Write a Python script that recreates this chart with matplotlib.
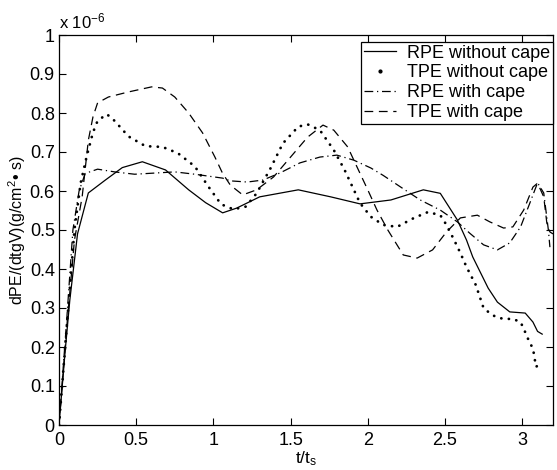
import numpy as np
import matplotlib
matplotlib.use('Agg')
import matplotlib.pyplot as plt
from matplotlib.lines import Line2D

# RPE without cape (solid)
x_rpe = [0, 0.04, 0.07, 0.12, 0.19, 0.30, 0.41, 0.54, 0.69, 0.84, 0.95, 1.06, 1.15, 1.30,
         1.55, 1.76, 1.95, 2.15, 2.36, 2.47, 2.58, 2.64, 2.68, 2.78, 2.84, 2.92, 3.02, 3.07, 3.10, 3.13]
y_rpe = [0, 0.19, 0.32, 0.49, 0.595, 0.628, 0.66, 0.675, 0.654, 0.603, 0.57, 0.544, 0.556, 0.585,
         0.603, 0.585, 0.567, 0.577, 0.603, 0.594, 0.526, 0.474, 0.431, 0.351, 0.315, 0.29, 0.287, 0.264, 0.24, 0.233]

# TPE without cape (dotted)
x_tpe = [0, 0.05, 0.10, 0.14, 0.18, 0.22, 0.25, 0.31, 0.36, 0.45, 0.56, 0.67, 0.77, 0.88, 0.97,
         1.05, 1.13, 1.21, 1.28, 1.37, 1.45, 1.55, 1.61, 1.69, 1.78, 1.85, 1.91, 1.95, 2.02, 2.10,
         2.19, 2.30, 2.39, 2.47, 2.51, 2.56, 2.60, 2.64, 2.70, 2.75, 2.79, 2.83, 2.88, 2.94, 2.99,
         3.02, 3.05, 3.07, 3.09, 3.13]
y_tpe = [0, 0.25, 0.5, 0.62, 0.69, 0.75, 0.78, 0.797, 0.78, 0.74, 0.715, 0.713, 0.697, 0.663, 0.61,
         0.566, 0.553, 0.56, 0.594, 0.658, 0.722, 0.765, 0.771, 0.756, 0.705, 0.654, 0.603, 0.569, 0.534, 0.513,
         0.508, 0.531, 0.546, 0.538, 0.513, 0.474, 0.441, 0.405, 0.359, 0.30, 0.287, 0.277, 0.272, 0.272, 0.264,
         0.238, 0.21, 0.197, 0.149, 0.162]

# RPE with cape (dash-dot)
x_rpec = [0, 0.05, 0.09, 0.13, 0.17, 0.25, 0.36, 0.49, 0.62, 0.75, 0.88, 1.06, 1.11, 1.22, 1.32,
          1.43, 1.56, 1.69, 1.80, 1.91, 2.02, 2.10, 2.21, 2.34, 2.47, 2.58, 2.66, 2.75, 2.84, 2.92,
          2.99, 3.05, 3.10, 3.14, 3.17, 3.18]
y_rpec = [0, 0.27, 0.5, 0.6, 0.645, 0.656, 0.649, 0.643, 0.646, 0.649, 0.643, 0.633, 0.626, 0.623, 0.628,
          0.646, 0.672, 0.687, 0.692, 0.679, 0.659, 0.64, 0.611, 0.577, 0.551, 0.521, 0.492, 0.462, 0.449, 0.467,
          0.508, 0.569, 0.621, 0.595, 0.5, 0.456]

# TPE with cape (dashed)
x_tpec = [0, 0.05, 0.10, 0.15, 0.19, 0.22, 0.25, 0.32, 0.45, 0.60, 0.67, 0.75, 0.84, 0.93, 1.01,
          1.06, 1.11, 1.19, 1.28, 1.39, 1.50, 1.61, 1.71, 1.78, 1.87, 1.93, 2.00, 2.06, 2.13, 2.23,
          2.32, 2.42, 2.51, 2.60, 2.71, 2.79, 2.88, 2.94, 3.01, 3.07, 3.10, 3.14, 3.16, 3.18, 3.20]
y_tpec = [0, 0.25, 0.474, 0.585, 0.73, 0.79, 0.826, 0.841, 0.854, 0.867, 0.864, 0.841, 0.80, 0.749, 0.687,
          0.645, 0.615, 0.59, 0.603, 0.636, 0.687, 0.738, 0.769, 0.756, 0.713, 0.662, 0.603, 0.551, 0.50, 0.436,
          0.428, 0.449, 0.495, 0.531, 0.538, 0.521, 0.505, 0.508, 0.551, 0.61, 0.62, 0.585, 0.518, 0.495, 0.49]

labels = ['RPE without cape', 'TPE without cape', 'RPE with cape', 'TPE with cape']
xticks = [0, 0.5, 1, 1.5, 2, 2.5, 3]
yticks = [0, 0.1, 0.2, 0.3, 0.4, 0.5, 0.6, 0.7, 0.8, 0.9, 1]

plt.rcParams['font.family'] = ['Liberation Sans', 'DejaVu Sans']
plt.rcParams['mathtext.fontset'] = 'custom'
plt.rcParams['mathtext.rm'] = 'Liberation Sans'
plt.rcParams['mathtext.it'] = 'Liberation Sans'

fig = plt.figure(figsize=(5.57, 4.70), dpi=100)
ax = fig.add_axes([59/557, 45/470, 494/557, 390/470])

lw = 0.9
dotted = (0, (0.05, 2.7))
dashdot = (0, (7, 3, 1, 3))
dashed = (0, (7, 4.5))
ax.plot(x_rpe, y_rpe, 'k-', lw=lw)
ax.plot(x_tpe, y_tpe, color='k', lw=2.0, linestyle=dotted, dash_capstyle='round')
ax.plot(x_rpec, y_rpec, color='k', lw=lw, linestyle=dashdot)
ax.plot(x_tpec, y_tpec, color='k', lw=lw, linestyle=dashed)

ax.set_xlim(0, 3.2)
ax.set_ylim(0, 1)
ax.set_xticks(xticks)
ax.set_xticklabels(['%g' % v for v in xticks])
ax.set_yticks(yticks)
ax.set_yticklabels(['%g' % v for v in yticks])
ax.tick_params(direction='in', top=True, right=True, length=5, width=0.8, labelsize=13)
ax.tick_params(axis='x', pad=5)
ax.tick_params(axis='y', pad=3)
for s in ax.spines.values():
    s.set_linewidth(0.9)

ax.set_xlabel('t/t$_\\mathrm{s}$', fontsize=12.5, labelpad=0)
ax.set_ylabel('dPE/(dtgV)(g/cm$^2$\u2022 s)', fontsize=11.5, labelpad=1)
ax.text(0.0, 1.008, 'x 10$^{-6}$', transform=ax.transAxes, fontsize=12, ha='left', va='bottom')

handles = [Line2D([], [], color='k', lw=lw),
           Line2D([], [], color='k', lw=0, marker='.', markersize=4),
           Line2D([], [], color='k', lw=lw, linestyle=dashdot),
           Line2D([], [], color='k', lw=lw, linestyle=dashed)]
leg = ax.legend(handles, labels, loc='upper right', bbox_to_anchor=(1.0, 1 - 7/390), borderaxespad=0,
                fontsize=13, fancybox=False, edgecolor='k', framealpha=1,
                handlelength=1.8, labelspacing=0.15, borderpad=0.15, handletextpad=0.6)
leg.get_frame().set_linewidth(0.9)

plt.savefig('out.png', dpi=100)
